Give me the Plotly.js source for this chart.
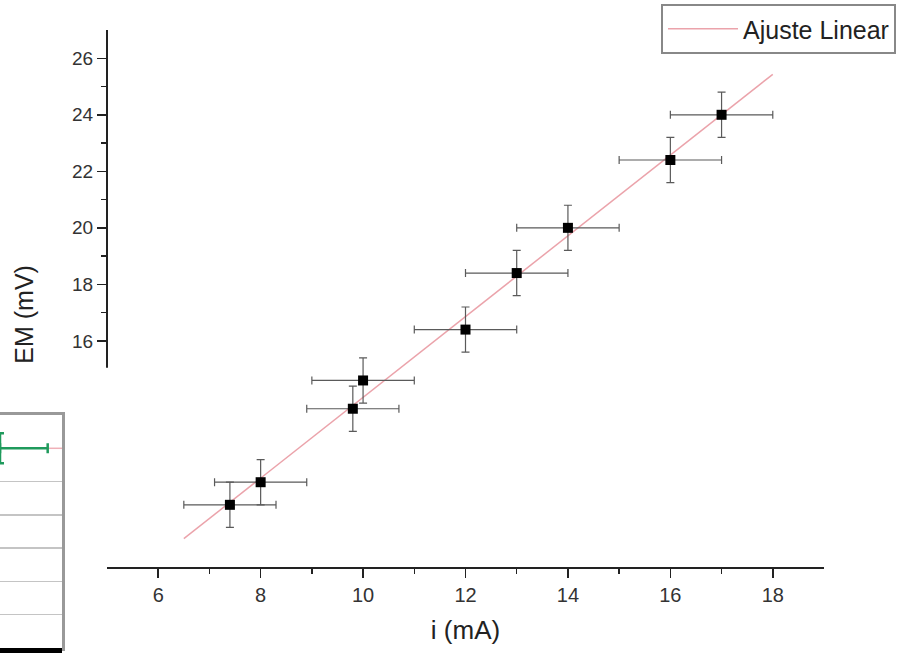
<!DOCTYPE html>
<html>
<head>
<meta charset="utf-8">
<script src="https://cdn.plot.ly/plotly-3.0.1.min.js"></script>
<style>html,body{margin:0;padding:0;background:#fff;}#chart{width:902px;height:653px;}</style>
</head>
<body>
<div id="chart"></div>
<script>
// Main series: current i (mA) vs FEM (mV)
const currentMA = [7.4, 8.0, 9.8, 10.0, 12.0, 13.0, 14.0, 16.0, 17.0];
const femMV     = [10.2, 11.0, 13.6, 14.6, 16.4, 18.4, 20.0, 22.4, 24.0];
const errCurrent = [0.9, 0.9, 0.9, 1.0, 1.0, 1.0, 1.0, 1.0, 1.0];
const errFem     = [0.8, 0.8, 0.8, 0.8, 0.8, 0.8, 0.8, 0.8, 0.8];
const fitRange = [6.5, 18.0];
const xTicks = [6, 8, 10, 12, 14, 16, 18];
const xMinorTicks = [7, 9, 11, 13, 15, 17];
const yTicks = [16, 18, 20, 22, 24, 26];
const yMinorTicks = [17, 19, 21, 23, 25];

// Fragment of the overlapping chart (bottom-left)
const insetX = [0];
const insetY = [6];
const insetErrXPlus = [1.0];
const insetErrXMinus = [0];
const insetErrY = [0.45];
const insetFitX = [1.0, 1.3];
const insetFitY = [6, 6];

// least-squares fit of the data
const n = currentMA.length;
const mx = currentMA.reduce((a, b) => a + b, 0) / n;
const my = femMV.reduce((a, b) => a + b, 0) / n;
let sxy = 0, sxx = 0;
for (let i = 0; i < n; i++) { sxy += (currentMA[i] - mx) * (femMV[i] - my); sxx += (currentMA[i] - mx) ** 2; }
const slope = sxy / sxx, intercept = my - slope * mx;
const fitY = fitRange.map(x => intercept + slope * x);

const W = 902, H = 653;
const font = 'Liberation Sans, Arial, sans-serif';
const ink = '#222';

const traces = [
  { x: fitRange, y: fitY, mode: 'lines', name: 'Ajuste Linear',
    line: { color: '#eba3ab', width: 1.5 }, showlegend: true, hoverinfo: 'skip' },
  { x: currentMA, y: femMV, mode: 'markers', name: 'Dados', showlegend: false,
    marker: { symbol: 'square', size: 10, color: '#000' },
    error_x: { type: 'data', array: errCurrent, color: '#5a5a5a', thickness: 1.2, width: 4 },
    error_y: { type: 'data', array: errFem, color: '#5a5a5a', thickness: 1.2, width: 4 } },
  { x: insetFitX, y: insetFitY, xaxis: 'x2', yaxis: 'y2', mode: 'lines', showlegend: false,
    line: { color: '#efb0b8', width: 1.5 } },
  { x: insetX, y: insetY, xaxis: 'x2', yaxis: 'y2', mode: 'markers', showlegend: false, cliponaxis: false,
    marker: { size: 1, color: '#1f9a5c' },
    error_x: { type: 'data', symmetric: false, array: insetErrXPlus, arrayminus: insetErrXMinus, color: '#1f9a5c', thickness: 2.5, width: 5 },
    error_y: { type: 'data', array: insetErrY, color: '#1f9a5c', thickness: 2.5, width: 4 } }
];

const layout = {
  width: W, height: H,
  margin: { l: 0, r: 0, t: 0, b: 0 },
  paper_bgcolor: '#fff', plot_bgcolor: '#fff',
  font: { family: font, color: ink },
  showlegend: true,
  legend: {
    x: 896 / W, xanchor: 'right', y: (H - 4) / H, yanchor: 'top',
    bgcolor: '#fff', bordercolor: '#888', borderwidth: 2,
    font: { size: 25, family: font, color: ink }, itemwidth: 70
  },
  xaxis: {
    domain: [107 / W, 824 / W], range: [5, 19],
    tickmode: 'array', tickvals: xTicks,
    ticks: 'outside', ticklen: 9, tickwidth: 1.5, tickcolor: ink,
    minor: { tickmode: 'array', tickvals: xMinorTicks, ticks: 'outside', ticklen: 5, tickwidth: 1.5, tickcolor: ink },
    showline: true, linecolor: ink, linewidth: 2,
    showgrid: false, zeroline: false,
    tickfont: { size: 20, family: font, color: '#333' },
    title: { text: 'i (mA)', font: { size: 26, family: font, color: ink }, standoff: 16 }
  },
  yaxis: {
    domain: [86 / H, 623 / H], range: [8, 27],
    tickmode: 'array', tickvals: yTicks,
    ticks: 'outside', ticklen: 9, tickwidth: 1.5, tickcolor: ink,
    minor: { tickmode: 'array', tickvals: yMinorTicks, ticks: 'outside', ticklen: 5, tickwidth: 1.5, tickcolor: ink },
    showline: false, showgrid: false, zeroline: false,
    tickfont: { size: 19, family: font, color: '#333' }
  },
  xaxis2: {
    domain: [0, 62 / W], anchor: 'y2', range: [0, 1.3],
    showline: true, mirror: true, linecolor: '#999', linewidth: 3,
    showticklabels: false, ticks: '', showgrid: false, zeroline: false
  },
  yaxis2: {
    domain: [5 / H, 238 / H], anchor: 'x2', range: [0, 7], side: 'right',
    tickmode: 'linear', tick0: 0, dtick: 1,
    showline: true, linecolor: '#999', linewidth: 3,
    showgrid: true, gridcolor: '#c4c4c4', gridwidth: 1.5,
    showticklabels: false, ticks: '', zeroline: false
  },
  shapes: [
    { type: 'line', xref: 'x domain', yref: 'y', x0: 0, x1: 0, y0: 15.05, y1: 27,
      line: { color: ink, width: 2 } },
    { type: 'rect', xref: 'paper', yref: 'paper', x0: 0, x1: 62 / W, y0: 0, y1: 5 / H,
      fillcolor: '#000', line: { width: 0 } }
  ],
  annotations: [
    { text: '<span style="color:#ffffff">F</span>EM (mV)', textangle: -90,
      xref: 'paper', yref: 'paper', x: 24 / W, y: (H - 322) / H,
      xanchor: 'center', yanchor: 'middle',
      showarrow: false, font: { size: 25, family: font, color: ink } }
  ]
};

Plotly.newPlot('chart', traces, layout, { displayModeBar: false, staticPlot: true });
</script>
</body>
</html>
